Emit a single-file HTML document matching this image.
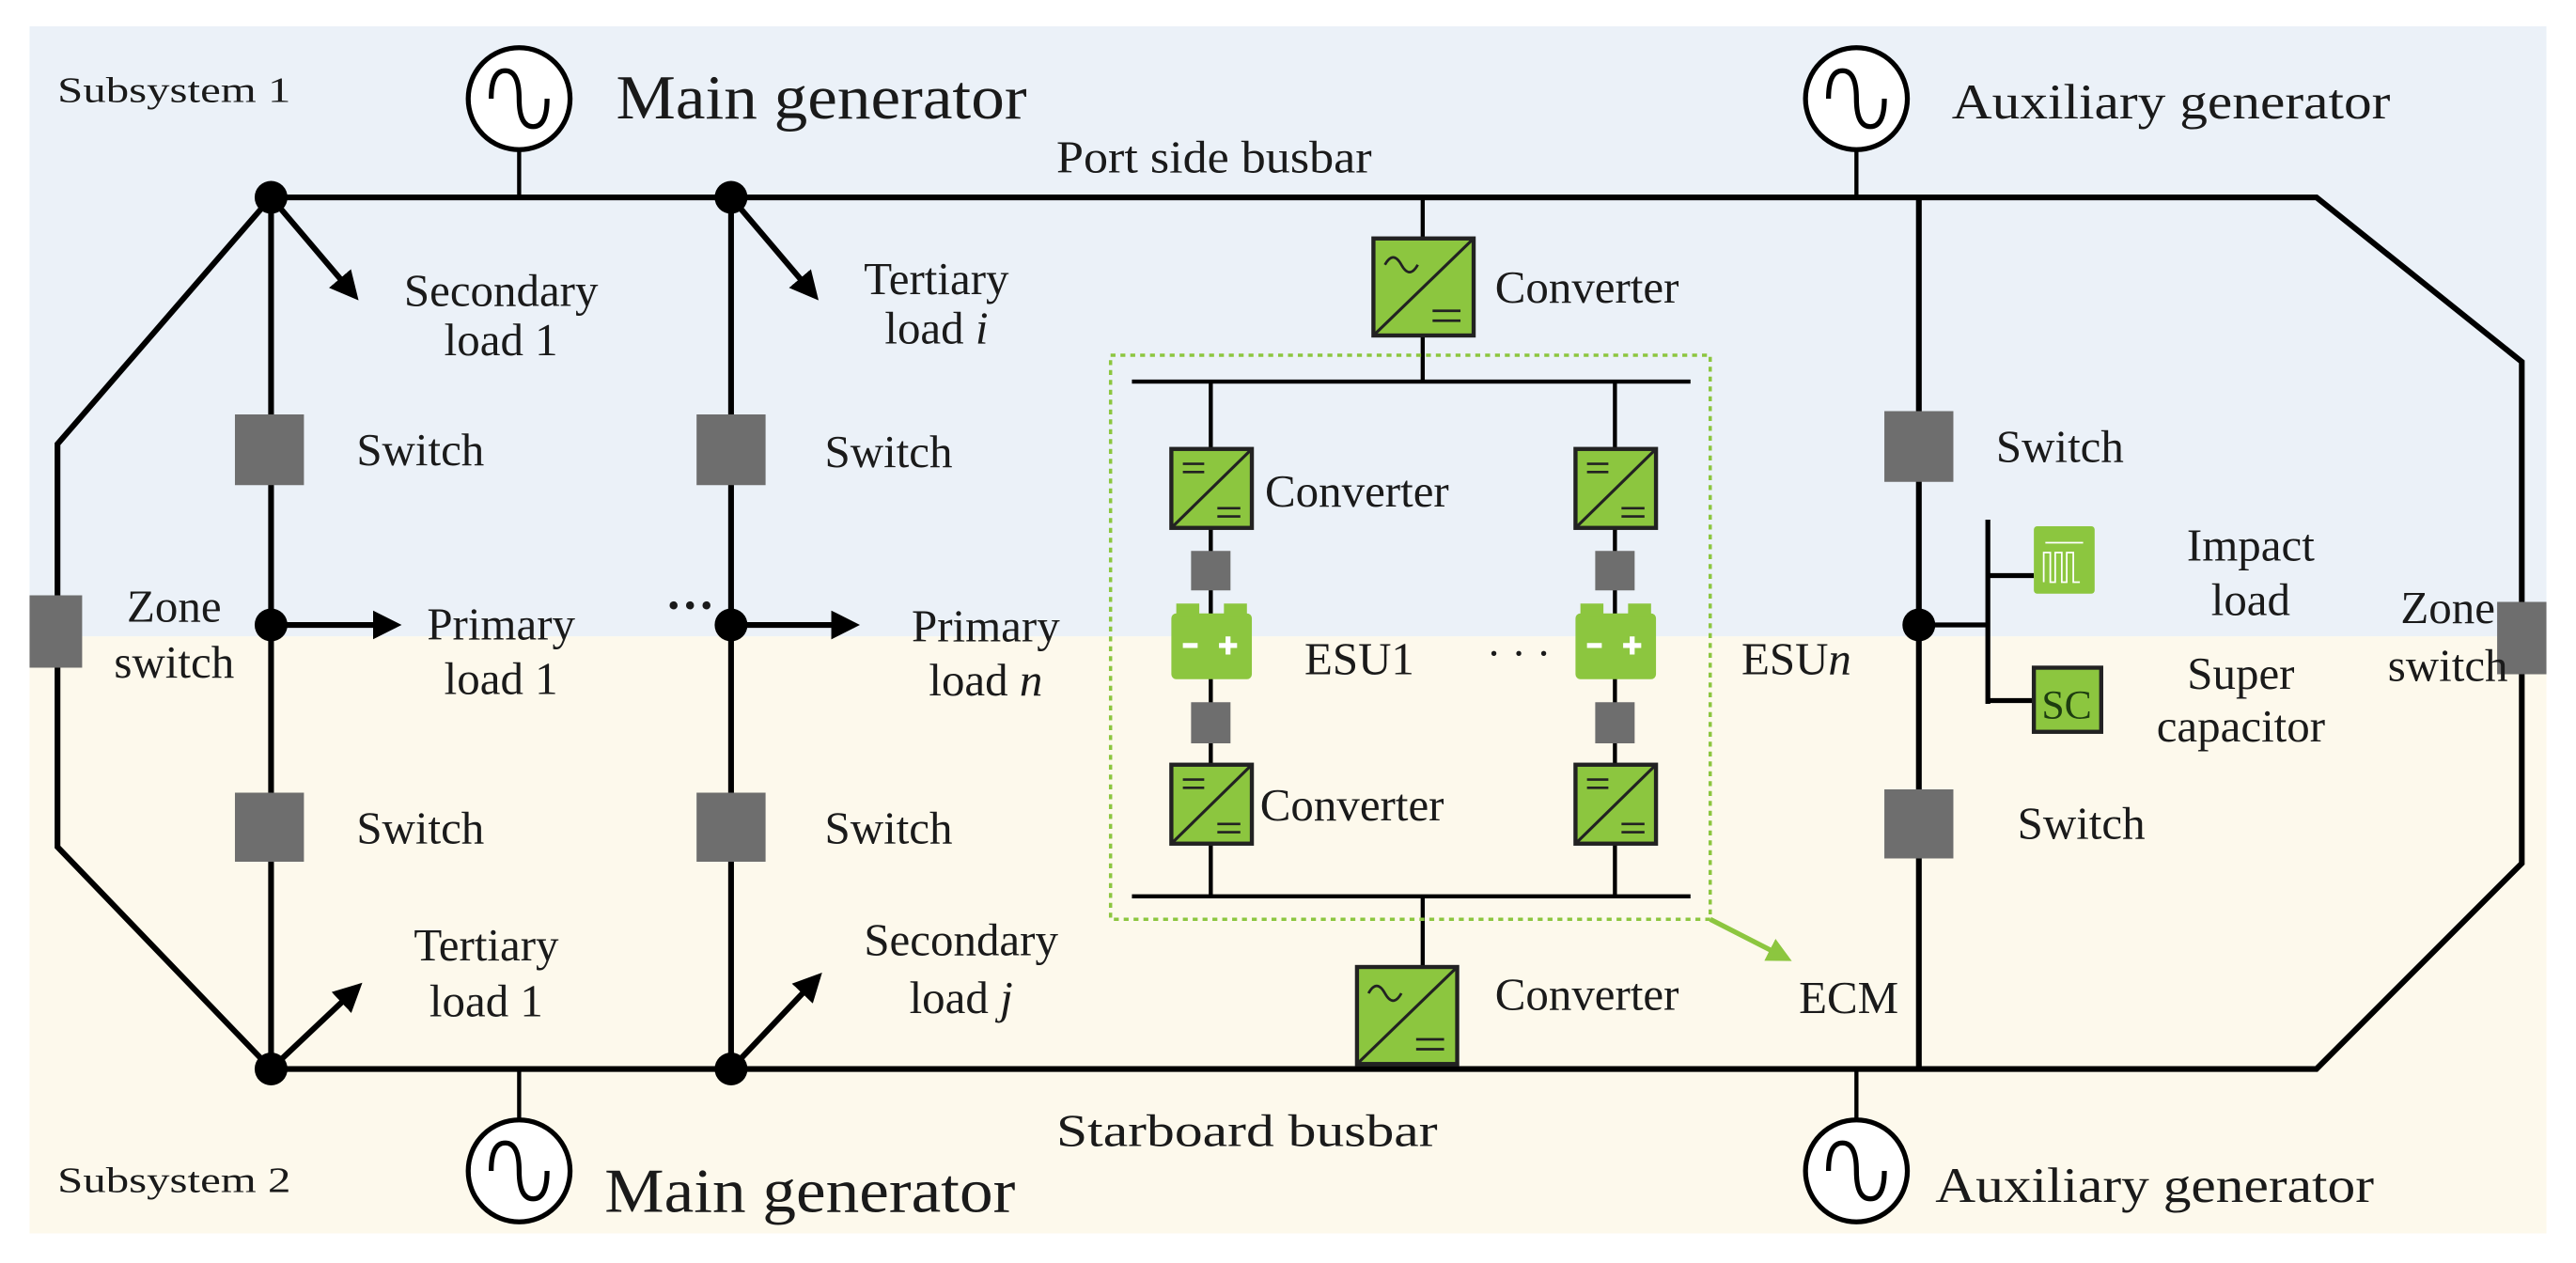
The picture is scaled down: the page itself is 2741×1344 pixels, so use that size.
<!DOCTYPE html>
<html><head><meta charset="utf-8"><style>
html,body{margin:0;padding:0;background:#fff;}
svg{display:block;}
text{font-family:"Liberation Serif",serif;fill:#1a1a1a;}
</style></head><body>
<svg width="2741" height="1344" viewBox="0 0 1568 768" preserveAspectRatio="none" xmlns="http://www.w3.org/2000/svg">
<defs>
<marker id="ar" viewBox="0 0 10 10" refX="8" refY="5" markerWidth="5" markerHeight="5" orient="auto"><path d="M0,0 L10,5 L0,10 z" fill="#000"/></marker>
<marker id="ag" viewBox="0 0 10 10" refX="8" refY="5" markerWidth="5" markerHeight="5" orient="auto"><path d="M0,0 L10,5 L0,10 z" fill="#8cc63f"/></marker>
<g id="conv"><rect x="0" y="0" width="49" height="48" fill="#8cc63f" stroke="#222" stroke-width="2.5"/><line x1="0" y1="48" x2="49" y2="0" stroke="#222" stroke-width="1.8"/><line x1="7" y1="9" x2="20" y2="9" stroke="#222" stroke-width="1.5"/><line x1="7" y1="14" x2="20" y2="14" stroke="#222" stroke-width="1.5"/><line x1="28" y1="36" x2="42" y2="36" stroke="#222" stroke-width="1.5"/><line x1="28" y1="41" x2="42" y2="41" stroke="#222" stroke-width="1.5"/></g>
<g id="acconv"><rect x="0" y="0" width="61" height="59" fill="#8cc63f" stroke="#222" stroke-width="2.5"/><line x1="0" y1="59" x2="61" y2="0" stroke="#222" stroke-width="1.8"/><path d="M7,16 q5,-9 10,0 t10,0" fill="none" stroke="#222" stroke-width="1.6"/><line x1="36" y1="44" x2="53" y2="44" stroke="#222" stroke-width="1.6"/><line x1="36" y1="50" x2="53" y2="50" stroke="#222" stroke-width="1.6"/></g>
<g id="bat"><rect x="0" y="6" width="49" height="40" rx="3" fill="#8cc63f"/><rect x="3" y="0" width="14" height="8" fill="#8cc63f"/><rect x="32" y="0" width="14" height="8" fill="#8cc63f"/><rect x="7" y="24" width="9" height="3" fill="#fff"/><rect x="29" y="24" width="11" height="3" fill="#fff"/><rect x="33" y="20" width="3" height="11" fill="#fff"/></g>
<g id="gen"><circle r="31" fill="#fff" stroke="#000" stroke-width="3"/><path d="M-17,0 q0,-17 8.5,-17 q8.5,0 8.5,17 q0,17 8.5,17 q8.5,0 8.5,-17" fill="none" stroke="#000" stroke-width="3"/></g>
</defs>
<rect x="18" y="16" width="1532" height="371" fill="#ebf1f8"/>
<rect x="18" y="387" width="1532" height="363" fill="#fdf9ec"/>
<g stroke="#000" stroke-width="3.5" fill="none">
<path d="M165,120 L1410,120 L1535,220 L1535,525 L1410,650 L165,650 L35,515 L35,270 Z"/>
<line x1="165" y1="120" x2="165" y2="650"/>
<line x1="445" y1="120" x2="445" y2="650"/>
<line x1="1168" y1="120" x2="1168" y2="650"/>
</g>
<g stroke="#000" stroke-width="2.5">
<line x1="316" y1="91" x2="316" y2="120"/><line x1="1130" y1="91" x2="1130" y2="120"/>
<line x1="316" y1="650" x2="316" y2="681"/><line x1="1130" y1="650" x2="1130" y2="681"/>
<line x1="866" y1="120" x2="866" y2="232"/>
<line x1="866" y1="545" x2="866" y2="590"/>
<line x1="689" y1="232" x2="1029" y2="232"/>
<line x1="689" y1="545" x2="1029" y2="545"/>
<line x1="737" y1="232" x2="737" y2="545"/>
<line x1="983" y1="232" x2="983" y2="545"/>
</g>
<g stroke="#000" stroke-width="3.5" marker-end="url(#ar)">
<line x1="165" y1="120" x2="216" y2="180"/>
<line x1="445" y1="120" x2="496" y2="180"/>
<line x1="165" y1="650" x2="218" y2="600"/>
<line x1="445" y1="650" x2="498" y2="594"/>
<line x1="165" y1="380" x2="241" y2="380"/>
<line x1="445" y1="380" x2="520" y2="380"/>
</g>
<use href="#gen" x="316" y="60"/><use href="#gen" x="1130" y="60"/>
<use href="#gen" x="316" y="712"/><use href="#gen" x="1130" y="712"/>
<g fill="#000"><circle cx="165" cy="120" r="10"/><circle cx="445" cy="120" r="10"/><circle cx="165" cy="380" r="10"/><circle cx="445" cy="380" r="10"/><circle cx="165" cy="650" r="10"/><circle cx="445" cy="650" r="10"/><circle cx="1168" cy="380" r="10"/></g>
<g fill="#6e6e6e">
<rect x="143" y="252" width="42" height="43"/><rect x="143" y="482" width="42" height="42"/>
<rect x="424" y="252" width="42" height="43"/><rect x="424" y="482" width="42" height="42"/>
<rect x="1147" y="250" width="42" height="43"/><rect x="1147" y="480" width="42" height="42"/>
<rect x="18" y="362" width="32" height="44"/><rect x="1520" y="366" width="30" height="44"/>
<rect x="725" y="335" width="24" height="24"/><rect x="725" y="427" width="24" height="25"/>
<rect x="971" y="335" width="24" height="24"/><rect x="971" y="427" width="24" height="25"/>
</g>
<rect x="676" y="216" width="365" height="343" fill="none" stroke="#8cc63f" stroke-width="2" stroke-dasharray="3,3"/>
<line x1="1041" y1="559" x2="1088" y2="583" stroke="#8cc63f" stroke-width="3" marker-end="url(#ag)"/>
<use href="#acconv" x="836" y="145"/>
<use href="#acconv" x="826" y="588"/>
<use href="#conv" x="713" y="273"/><use href="#conv" x="959" y="273"/>
<use href="#conv" x="713" y="465"/><use href="#conv" x="959" y="465"/>
<use href="#bat" x="713" y="367"/><use href="#bat" x="959" y="367"/>
<g stroke="#000" stroke-width="3">
<line x1="1168" y1="380" x2="1210" y2="380"/>
<line x1="1210" y1="316" x2="1210" y2="428"/>
<line x1="1210" y1="350" x2="1238" y2="350"/>
<line x1="1210" y1="426" x2="1237" y2="426"/>
</g>
<rect x="1238" y="320" width="37" height="41" rx="2" fill="#8cc63f"/>
<g stroke="#fff" stroke-width="1" fill="none"><line x1="1245" y1="330" x2="1268" y2="330"/><path d="M1244,354 v-18 h4 v18 h3 v-18 h4 v18 h3 v-18 h4 v18 h4"/></g>
<rect x="1238" y="406" width="41" height="39" fill="#8cc63f" stroke="#222" stroke-width="2.5"/>
<text x="1258" y="437" font-size="25" text-anchor="middle" style="fill:#1d3d10">SC</text>
<text x="35" y="62" font-size="22" textLength="142" lengthAdjust="spacingAndGlyphs">Subsystem 1</text>
<text x="35" y="725" font-size="22" textLength="142" lengthAdjust="spacingAndGlyphs">Subsystem 2</text>
<text x="375" y="72" font-size="38" textLength="250" lengthAdjust="spacingAndGlyphs">Main generator</text>
<text x="368" y="737" font-size="38" textLength="250" lengthAdjust="spacingAndGlyphs">Main generator</text>
<text x="1188" y="72" font-size="30" textLength="267" lengthAdjust="spacingAndGlyphs">Auxiliary generator</text>
<text x="1178" y="731" font-size="30" textLength="267" lengthAdjust="spacingAndGlyphs">Auxiliary generator</text>
<g font-size="28">
<text x="643" y="105" textLength="192" lengthAdjust="spacingAndGlyphs">Port side busbar</text>
<text x="643" y="697" textLength="232" lengthAdjust="spacingAndGlyphs">Starboard busbar</text>
<text x="910" y="184">Converter</text>
<text x="910" y="614">Converter</text>
<text x="770" y="308">Converter</text>
<text x="767" y="499">Converter</text>
<text x="794" y="410">ESU1</text>
<text x="1060" y="410">ESU<tspan font-style="italic">n</tspan></text>
<text x="1095" y="616">ECM</text>
<text x="217" y="283">Switch</text><text x="502" y="284">Switch</text><text x="1215" y="281">Switch</text>
<text x="217" y="513">Switch</text><text x="502" y="513">Switch</text><text x="1228" y="510">Switch</text>
</g>
<g font-size="28" text-anchor="middle">
<text x="305" y="186">Secondary</text><text x="305" y="216">load 1</text>
<text x="570" y="179">Tertiary</text><text x="570" y="209">load <tspan font-style="italic">i</tspan></text>
<text x="106" y="378">Zone</text><text x="106" y="412">switch</text>
<text x="305" y="389">Primary</text><text x="305" y="422">load 1</text>
<text x="600" y="390">Primary</text><text x="600" y="423">load <tspan font-style="italic">n</tspan></text>
<text x="1370" y="341">Impact</text><text x="1370" y="374">load</text>
<text x="1490" y="379">Zone</text><text x="1490" y="414">switch</text>
<text x="1364" y="419">Super</text><text x="1364" y="451">capacitor</text>
<text x="296" y="584">Tertiary</text><text x="296" y="618">load 1</text>
<text x="585" y="581">Secondary</text><text x="585" y="616">load <tspan font-style="italic">j</tspan></text>
</g>
<text x="405" y="378" font-size="30" font-weight="bold">···</text>
<text x="905" y="406" font-size="26">· · ·</text>
</svg>
</body></html>
